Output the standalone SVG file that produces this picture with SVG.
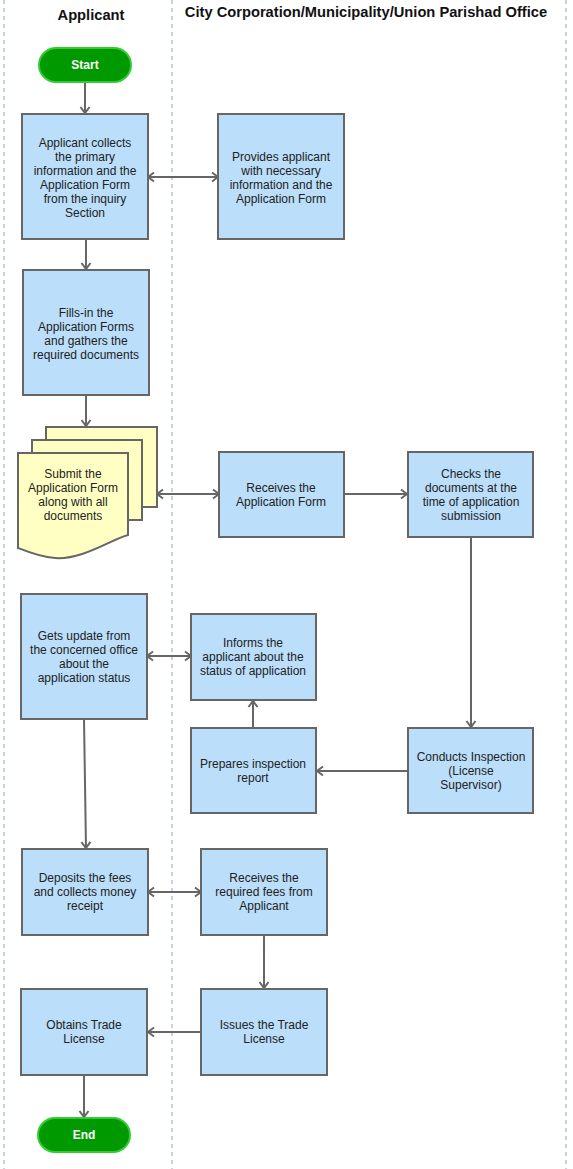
<svg xmlns="http://www.w3.org/2000/svg" width="573" height="1169" viewBox="0 0 573 1169">
<style>
.lane{stroke:#8f9fd4;stroke-width:1;stroke-dasharray:4,4;fill:none}
.hdr{font-family:"Liberation Sans",Arial,sans-serif;font-size:14.7px;font-weight:bold;fill:#111}
.box{fill:#bbdefb;stroke:#666;stroke-width:2}
.doc{fill:#ffffc4;stroke:#666;stroke-width:2}
.pill{fill:#009900;stroke:#33cc33;stroke-width:2}
.t{font-family:"Liberation Sans",Arial,sans-serif;font-size:12px;fill:#222;text-anchor:middle}
.pt{font-family:"Liberation Sans",Arial,sans-serif;font-size:12px;font-weight:bold;fill:#fff;text-anchor:middle}
.c{stroke:#666;stroke-width:2;fill:none}
</style>
<defs>
<marker id="ah" markerWidth="12" markerHeight="12" refX="9" refY="6" orient="auto-start-reverse" markerUnits="userSpaceOnUse">
<path d="M3,1.5 L9,6 L3,10.5" fill="none" stroke="#666" stroke-width="2"/>
</marker>
</defs>
<rect width="573" height="1169" fill="#fff"/>
<g id="lanes">
<line class="lane" x1="4" y1="0" x2="4" y2="1169"/>
<line class="lane" x1="172" y1="0" x2="172" y2="1169"/>
<line class="lane" x1="566" y1="0" x2="566" y2="1169"/>
<text class="hdr" x="91" y="20" text-anchor="middle">Applicant</text>
<text class="hdr" x="366" y="17" text-anchor="middle">City Corporation/Municipality/Union Parishad Office</text>
</g>
<g id="connectors">
<line class="c" x1="85" y1="82" x2="85" y2="113" marker-end="url(#ah)"/>
<line class="c" x1="148" y1="177" x2="218" y2="177" marker-start="url(#ah)" marker-end="url(#ah)"/>
<line class="c" x1="86" y1="239" x2="86" y2="269" marker-end="url(#ah)"/>
<line class="c" x1="86" y1="395" x2="86" y2="426" marker-end="url(#ah)"/>
<line class="c" x1="157" y1="494" x2="219" y2="494" marker-start="url(#ah)" marker-end="url(#ah)"/>
<line class="c" x1="344" y1="494" x2="407" y2="494" marker-end="url(#ah)"/>
<line class="c" x1="471" y1="537" x2="471" y2="727" marker-end="url(#ah)"/>
<line class="c" x1="408" y1="771" x2="317" y2="771" marker-end="url(#ah)"/>
<line class="c" x1="253" y1="728" x2="253" y2="701" marker-end="url(#ah)"/>
<line class="c" x1="147" y1="656" x2="191" y2="656" marker-start="url(#ah)" marker-end="url(#ah)"/>
<line class="c" x1="84" y1="719" x2="86" y2="848" marker-end="url(#ah)"/>
<line class="c" x1="148" y1="892" x2="201" y2="892" marker-start="url(#ah)" marker-end="url(#ah)"/>
<line class="c" x1="264" y1="935" x2="264" y2="988" marker-end="url(#ah)"/>
<line class="c" x1="201" y1="1032" x2="148" y2="1032" marker-end="url(#ah)"/>
<line class="c" x1="84" y1="1075" x2="84" y2="1117" marker-end="url(#ah)"/>
</g>
<g id="start">
<rect class="pill" x="39" y="48" width="92" height="34" rx="17"/>
<text class="pt" x="85" y="69">Start</text>
</g>
<g id="collect">
<rect class="box" x="22" y="114" width="126" height="125"/>
<text class="t" x="85" y="147">Applicant collects</text>
<text class="t" x="85" y="161">the primary</text>
<text class="t" x="85" y="175">information and the</text>
<text class="t" x="85" y="189">Application Form</text>
<text class="t" x="85" y="203">from the inquiry</text>
<text class="t" x="85" y="217">Section</text>
</g>
<g id="provides">
<rect class="box" x="218" y="114" width="126" height="125"/>
<text class="t" x="281" y="161">Provides applicant</text>
<text class="t" x="281" y="175">with necessary</text>
<text class="t" x="281" y="189">information and the</text>
<text class="t" x="281" y="203">Application Form</text>
</g>
<g id="fills">
<rect class="box" x="23" y="270" width="126" height="125"/>
<text class="t" x="86" y="317">Fills-in the</text>
<text class="t" x="86" y="331">Application Forms</text>
<text class="t" x="86" y="345">and gathers the</text>
<text class="t" x="86" y="359">required documents</text>
</g>
<g id="submit">
<rect class="doc" x="46" y="427" width="111" height="80"/>
<rect class="doc" x="32" y="440" width="110" height="80"/>
<path class="doc" d="M18,453 H128 V535 C110,540 82,560 55,558 C40,557 28,552 18,548 Z"/>
<text class="t" x="73" y="478">Submit the</text>
<text class="t" x="73" y="492">Application Form</text>
<text class="t" x="73" y="506">along with all</text>
<text class="t" x="73" y="520">documents</text>
</g>
<g id="receives">
<rect class="box" x="219" y="452" width="125" height="85"/>
<text class="t" x="281" y="492">Receives the</text>
<text class="t" x="281" y="506">Application Form</text>
</g>
<g id="checks">
<rect class="box" x="408" y="452" width="125" height="85"/>
<text class="t" x="471" y="478">Checks the</text>
<text class="t" x="471" y="492">documents at the</text>
<text class="t" x="471" y="506">time of application</text>
<text class="t" x="471" y="520">submission</text>
</g>
<g id="update">
<rect class="box" x="21" y="594" width="126" height="125"/>
<text class="t" x="84" y="640">Gets update from</text>
<text class="t" x="84" y="654">the concerned office</text>
<text class="t" x="84" y="668">about the</text>
<text class="t" x="84" y="682">application status</text>
</g>
<g id="informs">
<rect class="box" x="191" y="614" width="125" height="86"/>
<text class="t" x="253" y="647">Informs the</text>
<text class="t" x="253" y="661">applicant about the</text>
<text class="t" x="253" y="675">status of application</text>
</g>
<g id="prepares">
<rect class="box" x="191" y="728" width="125" height="85"/>
<text class="t" x="253" y="768">Prepares inspection</text>
<text class="t" x="253" y="782">report</text>
</g>
<g id="conducts">
<rect class="box" x="408" y="728" width="125" height="85"/>
<text class="t" x="471" y="761">Conducts Inspection</text>
<text class="t" x="471" y="775">(License</text>
<text class="t" x="471" y="789">Supervisor)</text>
</g>
<g id="deposits">
<rect class="box" x="22" y="849" width="126" height="86"/>
<text class="t" x="85" y="882">Deposits the fees</text>
<text class="t" x="85" y="896">and collects money</text>
<text class="t" x="85" y="910">receipt</text>
</g>
<g id="fees">
<rect class="box" x="201" y="849" width="126" height="86"/>
<text class="t" x="264" y="882">Receives the</text>
<text class="t" x="264" y="896">required fees from</text>
<text class="t" x="264" y="910">Applicant</text>
</g>
<g id="obtains">
<rect class="box" x="21" y="989" width="126" height="86"/>
<text class="t" x="84" y="1029">Obtains Trade</text>
<text class="t" x="84" y="1043">License</text>
</g>
<g id="issues">
<rect class="box" x="201" y="989" width="126" height="86"/>
<text class="t" x="264" y="1029">Issues the Trade</text>
<text class="t" x="264" y="1043">License</text>
</g>
<g id="end">
<rect class="pill" x="38" y="1118" width="92" height="34" rx="17"/>
<text class="pt" x="84" y="1139">End</text>
</g>
</svg>
